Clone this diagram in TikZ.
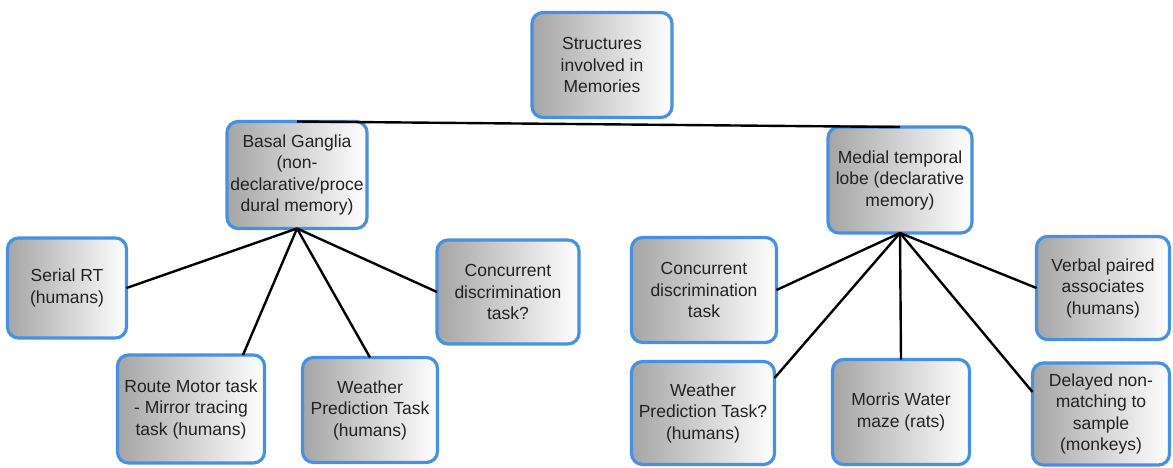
\documentclass[tikz,border=0pt]{standalone}
\usepackage{fontspec}
\setmainfont{Liberation Sans}
\usetikzlibrary{calc}
\definecolor{boxblue}{RGB}{70,145,225}
\definecolor{boxgray}{RGB}{165,165,165}
\definecolor{txt}{RGB}{35,35,35}
\tikzset{
  membox/.style={draw=boxblue, line width=3.2pt, rounded corners=11pt,
    left color=boxgray, right color=white, align=center, inner sep=2pt,
    outer sep=0pt, text=txt, font=\fontsize{17.5}{21.5}\selectfont},
  link/.style={line width=2.4pt, draw=black}
}
\begin{document}
\begin{tikzpicture}[x=1pt,y=-1pt]
\useasboundingbox (0,0) rectangle (1173,468);
\fill[white] (0,0) rectangle (1173,468);
% nodes
\node[membox, minimum width=140pt, minimum height=105pt] (root) at (602,65) {Structures\\involved in\\Memories};
\node[membox, minimum width=140pt, minimum height=107pt] (bg) at (297,175) {Basal Ganglia\\(non-\\declarative/proce\\dural memory)};
\node[membox, minimum width=144pt, minimum height=106pt] (mtl) at (900,180) {Medial temporal\\lobe (declarative\\memory)};
\node[membox, minimum width=119pt, minimum height=100pt] (serial) at (67,288) {Serial RT\\(humans)};
\node[membox, minimum width=147pt, minimum height=108pt] (route) at (191,409) {Route Motor task\\- Mirror tracing\\task (humans)};
\node[membox, minimum width=135pt, minimum height=105pt] (wpt) at (370,410) {Weather\\Prediction Task\\(humans)};
\node[membox, minimum width=142pt, minimum height=104pt] (concA) at (508,292) {Concurrent\\discrimination\\task?};
\node[membox, minimum width=145pt, minimum height=105pt] (concB) at (704,290) {Concurrent\\discrimination\\task};
\node[membox, minimum width=143pt, minimum height=103pt] (wptB) at (703,413) {Weather\\Prediction Task?\\(humans)};
\node[membox, minimum width=137pt, minimum height=105pt] (morris) at (901,412) {Morris Water\\maze (rats)};
\node[membox, minimum width=133pt, minimum height=103pt] (verbal) at (1103,288) {Verbal paired\\associates\\(humans)};
\node[membox, minimum width=137pt, minimum height=102pt] (delayed) at (1101,414) {Delayed non-\\matching to\\sample\\(monkeys)};
% connectors
\draw[link] (bg.north) -- (mtl.north);
\draw[link] (bg.south) -- (serial.east);
\draw[link] (bg.south) -- ([xshift=52pt]route.north);
\draw[link] (bg.south) -- (wpt.north);
\draw[link] (bg.south) -- (concA.west);
\draw[link] (mtl.south) -- (concB.east);
\draw[link] (mtl.south) -- ([yshift=35pt]wptB.east);
\draw[link] (mtl.south) -- (morris.north);
\draw[link] (mtl.south) -- (verbal.west);
\draw[link] (mtl.south) -- ([yshift=22pt]delayed.west);
\end{tikzpicture}
\end{document}
